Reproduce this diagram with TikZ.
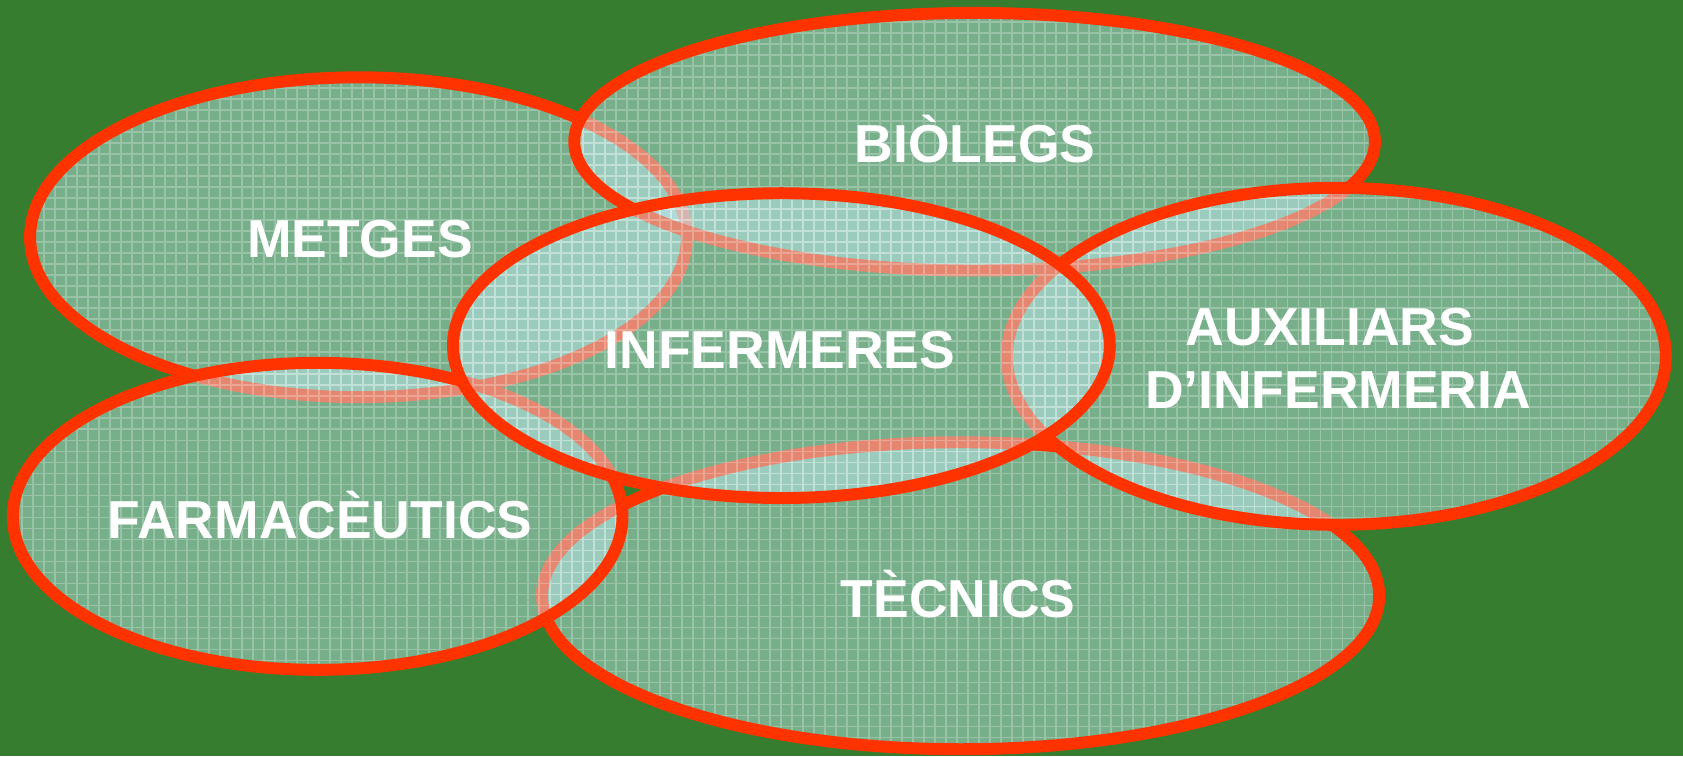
\documentclass[tikz,border=0pt]{standalone}
\usepackage{fontspec}
\setmainfont{Liberation Sans}
\definecolor{bgc}{HTML}{377D2F}
\definecolor{rimc}{HTML}{FF3300}
\definecolor{fillc}{HTML}{C7EEF9}
\tikzset{
  rim/.style={draw=rimc, line width=3.4pt},
  veil/.style={fill=fillc, fill opacity=0.45},
  gridline/.style={draw=white, line width=0.3pt, draw opacity=0.25},
  lbl/.style={text=white, font=\fontsize{15.2}{18}\selectfont\bfseries, inner sep=0pt, anchor=base}
}
\newcommand{\blob}[4]{%
  \path[veil] (#1,#2) ellipse [x radius=#3, y radius=#4];
  \begin{scope}
    \clip (#1,#2) ellipse [x radius=#3, y radius=#4];
    \draw[gridline] (0,-770) grid[xstep=11, ystep=11] (1690,0);
  \end{scope}
  \path[rim] (#1,#2) ellipse [x radius=#3, y radius=#4];
}
\begin{document}
\begin{tikzpicture}[x=0.01cm, y=0.01cm]
\fill[bgc] (0,0) rectangle (1683,-756);
\useasboundingbox (0,0) rectangle (1683,-756);
% METGES
\blob{358.5}{-237.2}{328.4}{159.9}
% BIOLEGS
\blob{974.6}{-141.7}{400.3}{128.8}
% TECNICS
\blob{960.6}{-595.7}{418.6}{153.5}
% FARMACEUTICS
\blob{317.7}{-516.3}{304.8}{153.5}
% AUXILIARS
\blob{1336.3}{-356.3}{329.5}{168.5}
% INFERMERES
\blob{781.4}{-345.6}{328.4}{152.4}
\node[lbl] (metges) at (360,-257) {METGES};
\node[lbl] (biolegs) at (975,-162) {BIÒLEGS};
\node[lbl] (infermeres) at (780,-368) {INFERMERES};
\node[lbl] (aux1) at (1330,-345.5) {AUXILIARS};
\node[lbl] (aux2) at (1338,-408) {D’INFERMERIA};
\node[lbl] (farma) at (320,-538) {FARMACÈUTICS};
\node[lbl] (tecnics) at (958,-617) {TÈCNICS};
\end{tikzpicture}
\end{document}
